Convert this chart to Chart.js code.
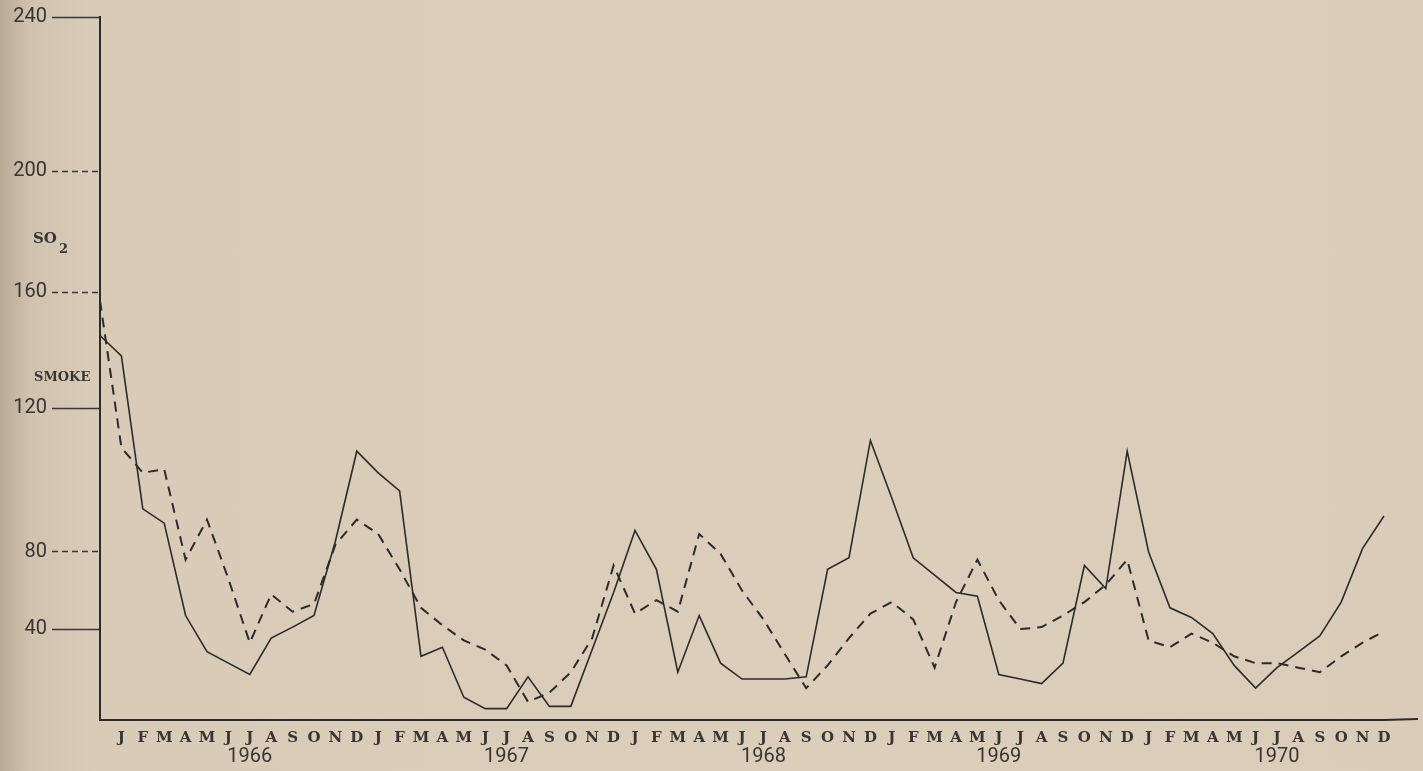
<!DOCTYPE html>
<html>
<head>
<meta charset="utf-8">
<script src="https://cdn.jsdelivr.net/npm/chart.js@4.4.1/dist/chart.umd.min.js"></script>
<style>
    html, body {
        margin: 0;
        padding: 0;
    }
    body {
        width: 1423px;
        height: 771px;
        overflow: hidden;
        background: linear-gradient(to right, #b9aa94 0px, #cfc2ae 30px, #d8cbb8 90px, #dbcfbc 60%, #d9cdba 100%);
    }
    #wrap {
        position: relative;
        width: 1423px;
        height: 771px;
    }
</style>
</head>
<body>
<div id="wrap"><canvas id="chart"></canvas></div>
<script>
// monthly values, first point (on the axis) is Dec 1965
const monthLetters = ['J', 'F', 'M', 'A', 'M', 'J', 'J', 'A', 'S', 'O', 'N', 'D'];
const years = ['1966', '1967', '1968', '1969', '1970'];
const yearMonth = [6, 6, 6, 5, 6];
const yTicks = [40, 80, 120, 160, 200, 240];

const solidLine = [145, 138, 92, 88, 47, 30, 25, 20, 36, 41, 47, 83, 108,
    102, 97, 28, 32, 10, 5, 5, 19, 6, 6, 31, 59, 86,
    71, 21, 47, 25, 18, 18, 18, 19, 71, 77, 111,
    95, 77, 68, 59, 57, 20, 18, 16, 25, 73, 61, 108,
    80, 51, 46, 38, 24, 14, 23, 30, 37, 54, 81, 90];

const dashedLine = [157, 109, 102, 103, 76, 89, 66, 34, 58, 49, 53, 82, 89,
    85, 71, 51, 42, 35, 31, 24, 8, 12, 21, 36, 73, 48,
    55, 49, 85, 79, 60, 45, 29, 14, 24, 36, 48,
    54, 45, 23, 54, 76, 55, 40, 41, 47, 54, 63, 76,
    35, 32, 38, 34, 28, 25, 25, 23, 21, 28, 34, 39];

const labels = [''];
years.forEach(() => monthLetters.forEach(m => labels.push(m)));

// the hand drawn value axis is not evenly spaced
class PiecewiseScale extends Chart.LinearScale {
    getPixelForValue(value) {
        if (value === null || isNaN(value)) return NaN;
        const stops = this.options.stops;
        let dec = 0;
        for (let i = 1; i < stops.length; i++) {
            const a = stops[i - 1];
            const b = stops[i];
            if (value <= b[0] || i === stops.length - 1) {
                dec = a[1] + (value - a[0]) / (b[0] - a[0]) * (b[1] - a[1]);
                break;
            }
        }
        return this.getPixelForDecimal(dec);
    }
    getValueForPixel(pixel) {
        const stops = this.options.stops;
        const dec = this.getDecimalForPixel(pixel);
        for (let i = 1; i < stops.length; i++) {
            const a = stops[i - 1];
            const b = stops[i];
            if (dec <= b[1] || i === stops.length - 1) {
                return a[0] + (dec - a[1]) / (b[1] - a[1]) * (b[0] - a[0]);
            }
        }
        return 0;
    }
}
PiecewiseScale.id = 'piecewise';
PiecewiseScale.defaults = Chart.LinearScale.defaults;
Chart.register(PiecewiseScale);

const ink = '#2e2a26';
const textInk = '#3a3531';

const paperText = {
    id: 'paperText',
    afterDraw(chart) {
        const c = chart.ctx;
        const x = chart.scales.x;
        const area = chart.chartArea;
        c.save();
        c.fillStyle = textInk;
        c.textBaseline = 'middle';
        c.textAlign = 'center';
        c.font = '20px Roboto';
        years.forEach((y, i) => {
            c.fillText(y, x.getPixelForValue(1 + i * 12 + yearMonth[i]), 757);
        });
        c.textAlign = 'left';
        c.font = 'bold 15px "DejaVu Serif"';
        c.fillText('SO', 33, 239);
        c.font = 'bold 13px "DejaVu Serif"';
        c.fillText('SMOKE', 34, 378);
        c.fillText('2', 59, 250);
        c.strokeStyle = ink;
        c.lineWidth = 2;
        c.beginPath();
        c.moveTo(area.right, area.bottom);
        c.lineTo(1418, area.bottom - 1);
        c.stroke();
        c.restore();
    }
};

const ctx = document.getElementById('chart').getContext('2d');

const myChart = new Chart(ctx, {
    type: 'line',
    data: {
        labels: labels,
        datasets: [
            {
                label: 'Smoke',
                data: solidLine,
                borderColor: ink,
                borderWidth: 1.6,
                pointRadius: 0,
                tension: 0,
            },
            {
                label: 'SO2',
                data: dashedLine,
                borderColor: ink,
                borderWidth: 2,
                borderDash: [10, 7],
                pointRadius: 0,
                tension: 0,
            }
        ]
    },
    options: {
        responsive: true,
        maintainAspectRatio: false,
        animation: false,
        layout: {
            padding: { top: 17, right: 39, left: 0, bottom: 0 }
        },
        plugins: {
            legend: { display: false },
            tooltip: { enabled: false }
        },
        scales: {
            x: {
                grid: { display: false },
                border: { display: true, color: ink, width: 2 },
                ticks: {
                    autoSkip: false,
                    maxRotation: 0,
                    minRotation: 0,
                    padding: 1,
                    color: textInk,
                    font: { family: '"DejaVu Serif"', size: 15, weight: 'bold' }
                },
                afterFit(scale) {
                    scale.height = 51;
                }
            },
            y: {
                type: 'piecewise',
                min: 0,
                max: 240,
                stops: [[0, 0], [40, 0.1294], [80, 0.239], [120, 0.4438], [160, 0.6088], [200, 0.7809], [240, 1]],
                afterBuildTicks(scale) {
                    scale.ticks = [{ value: 0 }].concat(yTicks.map(v => ({ value: v })));
                },
                grid: {
                    drawOnChartArea: false,
                    tickLength: 48,
                    tickWidth: 1.6,
                    tickColor: c => (c.tick && c.tick.value === 0) ? 'rgba(0,0,0,0)' : textInk,
                    tickBorderDash: c => (c.tick && [80, 160, 200].includes(c.tick.value)) ? [6, 4] : []
                },
                border: { display: true, color: ink, width: 2 },
                ticks: {
                    padding: 5,
                    color: textInk,
                    font: { family: 'Roboto', size: 20 },
                    callback: v => v === 0 ? '' : String(v)
                },
                afterFit(scale) {
                    scale.width = 100;
                }
            }
        }
    },
    plugins: [paperText]
});
</script>
</body>
</html>
